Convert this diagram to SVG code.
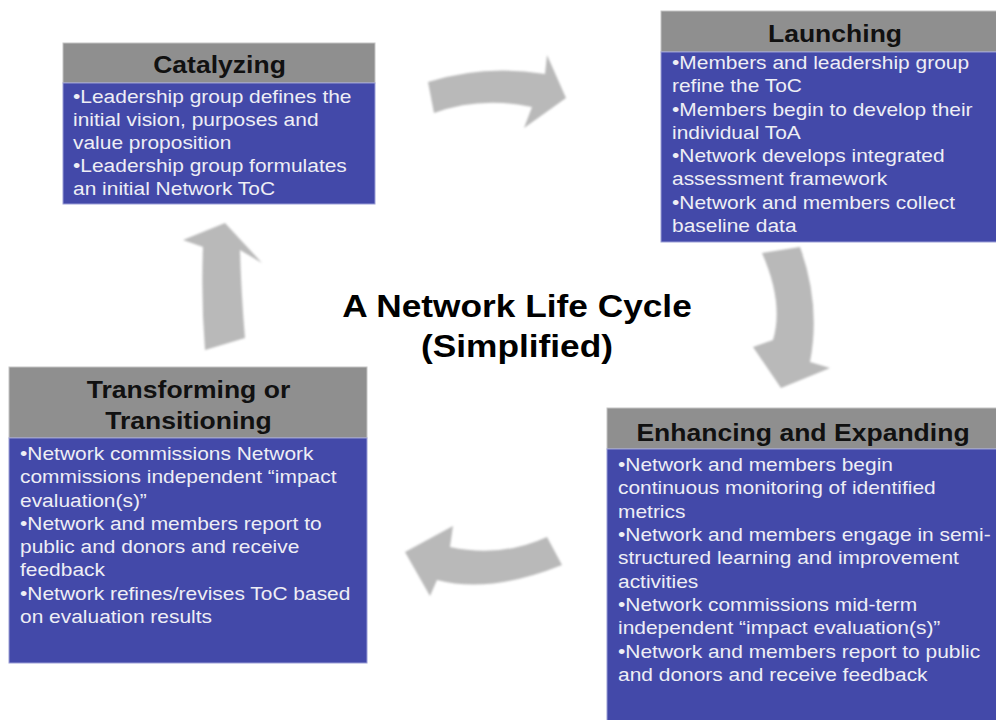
<svg xmlns="http://www.w3.org/2000/svg" width="996" height="720" viewBox="0 0 996 720">
<defs>
<filter id="soft" x="-10%" y="-10%" width="120%" height="120%">
<feGaussianBlur stdDeviation="1.3"/>
</filter>
</defs>
<style>
.hdr{fill:#8f8f8f;stroke:#c4c4c4;stroke-width:1}
.body{fill:#4349a9;stroke:#9a9ed6;stroke-width:1}
.ht{font-family:"Liberation Sans",Arial,sans-serif;font-weight:bold;font-size:23.7px;fill:#111;text-anchor:middle}
.bt{font-family:"Liberation Sans",Arial,sans-serif;font-size:18.7px;fill:#eeeef5}
.title{font-family:"Liberation Sans",Arial,sans-serif;font-weight:bold;font-size:31.5px;fill:#000;text-anchor:middle}
.arr{fill:#b9b9b9;filter:url(#soft)}
</style>
<rect width="996" height="720" fill="#ffffff"/>

<g id="connectors">
<path class="arr" d="M428,82 Q485,64 545,74 L547,55 L566,98 L524,128 L532,107 Q480,96 434,113 Z"/>
<path class="arr" d="M762,253 L800,247 Q821,305 810,362 L830,368 L781,388 L753,347 L773,340 Q784,303 762,253 Z"/>
<path class="arr" d="M547,537 Q501,558 450,547 L453,526 L405,552 L430,596 L437,580 Q490,594 562,565 Z"/>
<path class="arr" d="M205,350 L245,338 Q241,290 240,250 L262,263 L225,223 L183,240 L203,247 Q201,300 205,350 Z"/>
</g>

<g id="title">
<g transform="translate(517,0) scale(1.12,1)">
<text class="title" x="0" y="317">A Network Life Cycle</text>
<text class="title" x="0" y="357">(Simplified)</text>
</g>
</g>

<g id="catalyzing">
<rect class="hdr" x="63" y="43" width="312" height="40"/>
<rect class="body" x="63" y="83" width="312" height="121"/>
<g transform="translate(219.5,0) scale(1.12,1)"><text class="ht" x="0" y="73">Catalyzing</text></g>
<g transform="translate(73,0) scale(1.12,1)">
<text class="bt"><tspan x="0" y="103">•Leadership group defines the</tspan><tspan x="0" y="126">initial vision, purposes and</tspan><tspan x="0" y="149">value proposition</tspan><tspan x="0" y="172">•Leadership group formulates</tspan><tspan x="0" y="195">an initial Network ToC</tspan></text>
</g>
</g>

<g id="launching">
<rect class="hdr" x="661" y="11" width="350" height="41"/>
<rect class="body" x="661" y="52" width="350" height="190"/>
<g transform="translate(835,0) scale(1.12,1)"><text class="ht" x="0" y="42">Launching</text></g>
<g transform="translate(672,0) scale(1.12,1)">
<text class="bt"><tspan x="0" y="69">•Members and leadership group</tspan><tspan x="0" y="92.3">refine the ToC</tspan><tspan x="0" y="115.6">•Members begin to develop their</tspan><tspan x="0" y="138.9">individual ToA</tspan><tspan x="0" y="162.2">•Network develops integrated</tspan><tspan x="0" y="185.5">assessment framework</tspan><tspan x="0" y="208.8">•Network and members collect</tspan><tspan x="0" y="232">baseline data</tspan></text>
</g>
</g>

<g id="enhancing">
<rect class="hdr" x="607" y="408" width="400" height="41"/>
<rect class="body" x="607" y="449" width="400" height="280"/>
<g transform="translate(803,0) scale(1.12,1)"><text class="ht" x="0" y="441">Enhancing and Expanding</text></g>
<g transform="translate(618,0) scale(1.12,1)">
<text class="bt"><tspan x="0" y="471">•Network and members begin</tspan><tspan x="0" y="494.3">continuous monitoring of identified</tspan><tspan x="0" y="517.7">metrics</tspan><tspan x="0" y="541">•Network and members engage in semi-</tspan><tspan x="0" y="564.3">structured learning and improvement</tspan><tspan x="0" y="587.7">activities</tspan><tspan x="0" y="611">•Network commissions mid-term</tspan><tspan x="0" y="634.3">independent “impact evaluation(s)”</tspan><tspan x="0" y="657.7">•Network and members report to public</tspan><tspan x="0" y="681">and donors and receive feedback</tspan></text>
</g>
</g>

<g id="transforming">
<rect class="hdr" x="9" y="367" width="358" height="71"/>
<rect class="body" x="9" y="438" width="358" height="225"/>
<g transform="translate(188.5,0) scale(1.12,1)"><text class="ht" x="0" y="398">Transforming or</text><text class="ht" x="0" y="429">Transitioning</text></g>
<g transform="translate(20,0) scale(1.12,1)">
<text class="bt"><tspan x="0" y="460">•Network commissions Network</tspan><tspan x="0" y="483.3">commissions independent “impact</tspan><tspan x="0" y="506.6">evaluation(s)”</tspan><tspan x="0" y="529.9">•Network and members report to</tspan><tspan x="0" y="553.2">public and donors and receive</tspan><tspan x="0" y="576.5">feedback</tspan><tspan x="0" y="599.8">•Network refines/revises ToC based</tspan><tspan x="0" y="623">on evaluation results</tspan></text>
</g>
</g>
</svg>
